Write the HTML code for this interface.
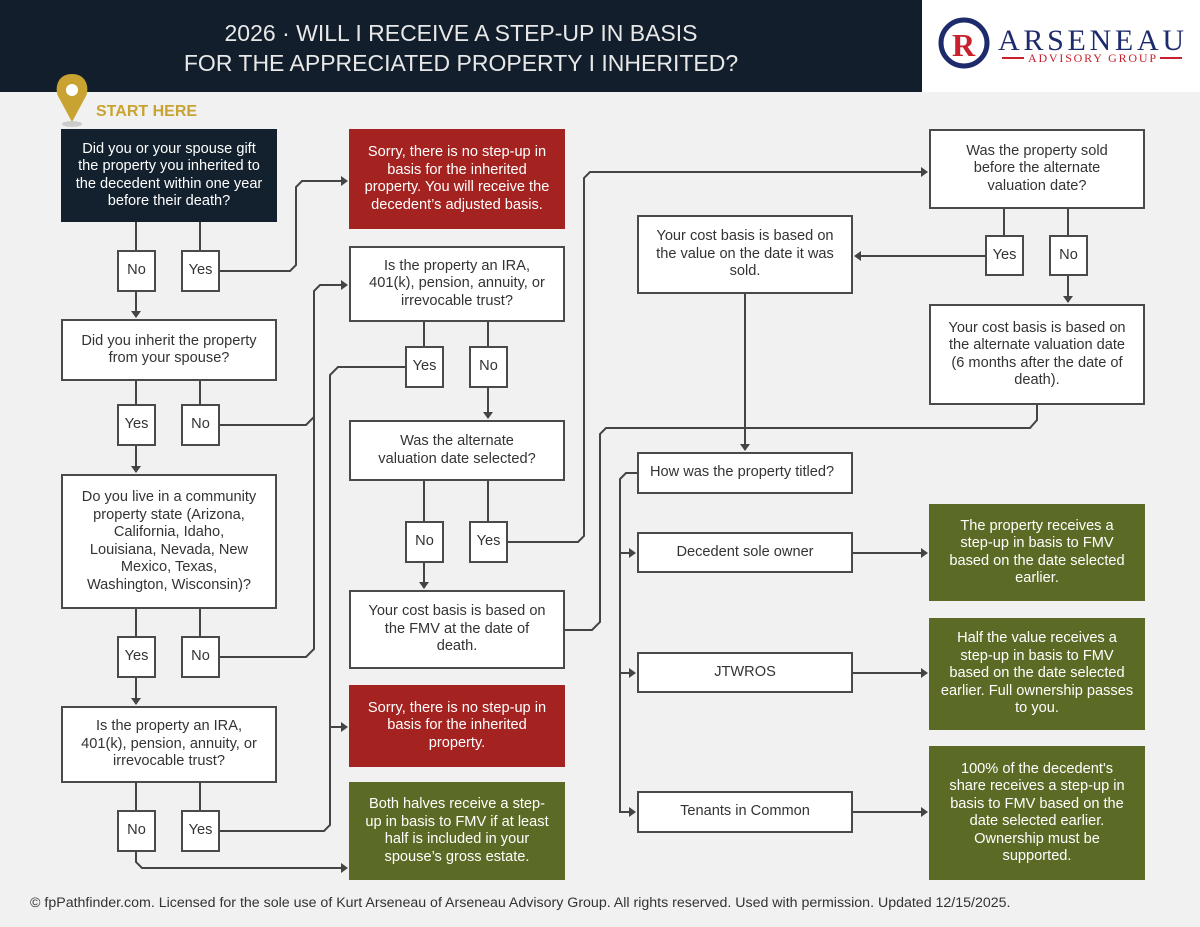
<!DOCTYPE html>
<html><head><meta charset="utf-8"><style>
body{margin:0;width:1200px;height:927px;background:#f1f1f1;font-family:"Liberation Sans",sans-serif;position:relative;overflow:hidden}
.hd{position:absolute;left:0;top:0;width:922px;height:92px;background:#121e2b;color:#e8e8e8;text-align:center;font-size:23px;line-height:30px;letter-spacing:0px;font-weight:normal;padding-top:18px;box-sizing:border-box}
.logo{position:absolute;left:922px;top:0;width:278px;height:92px;background:#fff}
.b{position:absolute;box-sizing:border-box;border:2px solid #4a4a4a;background:#fff;color:#333;font-size:14.6px;line-height:17.5px;display:flex;align-items:center;justify-content:center;text-align:center;padding:0 10px}
.s{padding:0}
.d{background:#13202d;border-color:#13202d;color:#fff}
.r{background:#a4221f;border-color:#a4221f;color:#fff}
.g{background:#5b6b25;border-color:#5b6b25;color:#fff}
svg{position:absolute;left:0;top:0}
.ft{position:absolute;left:30px;top:895px;font-size:14.2px;color:#333}
</style></head><body>
<div class="hd">2026 · WILL I RECEIVE A STEP-UP IN BASIS<br>FOR THE APPRECIATED PROPERTY I INHERITED?</div>
<div class="logo">
<svg width="278" height="92" style="position:absolute;left:0;top:0"><circle cx="42" cy="43" r="23" fill="none" stroke="#1d2a6b" stroke-width="5"/><text x="30" y="56" font-family="Liberation Serif" font-size="32" font-weight="bold" fill="#c8202d">R</text>
<text x="76" y="50" font-family="Liberation Serif" font-size="30" fill="#1d2a6b" textLength="186">ARSENEAU</text>
<line x1="80" y1="58" x2="102" y2="58" stroke="#c8202d" stroke-width="2"/><line x1="238" y1="58" x2="260" y2="58" stroke="#c8202d" stroke-width="2"/>
<text x="106" y="62" font-family="Liberation Serif" font-size="12" fill="#c8202d" textLength="128">ADVISORY GROUP</text></svg>
</div>
<svg width="1200" height="927">
<path d="M72 74 C56 74 55 90 58 96 L72 122 L86 96 C89 90 88 74 72 74Z" fill="#c9a332"/><circle cx="72" cy="90" r="6" fill="#fff"/>
<ellipse cx="72" cy="124" rx="10" ry="3" fill="#ccc"/>
<text x="96" y="116" font-size="16" font-weight="bold" fill="#c9a332" font-family="Liberation Sans">START HERE</text>
<g fill="none" stroke="#444" stroke-width="2">
<path d="M136 222V250M200 222V250M136 292V317M220 271H290L296 265V187L302 181H345"/>
<path d="M136 381V404M200 381V404M136 446V472M220 425H306L314 417V291L320 285H345M220 657H306L314 649V417"/>
<path d="M136 609V636M200 609V636M136 678V704M136 783V810M200 783V810"/>
<path d="M136 852V862L142 868H345M220 831H324L330 825V375L338 367H405M330 727H345"/>
<path d="M424 322V346M488 322V346M488 388V418M424 481V521M488 481V521M424 563V588"/>
<path d="M508 542H578L584 536V178L590 172H925"/>
<path d="M1004 209V235M1068 209V235M985 256H857M1068 276V302"/>
<path d="M745 294V450M1037 405V420L1030 428H606L600 434V622L592 630H565"/>
<path d="M637 473H626L620 479V812H633M620 553H633M620 673H633"/>
<path d="M853 553H925M853 673H925M853 812H925"/>
</g>
<g fill="#444">
<path d="M131 311h10l-5 7zM131 466h10l-5 7zM131 698h10l-5 7zM483 412h10l-5 7zM419 582h10l-5 7zM1063 296h10l-5 7zM740 444h10l-5 7z"/>
<path d="M341 176v10l7-5zM341 280v10l7-5zM341 722v10l7-5zM341 863v10l7-5zM921 167v10l7-5zM629 548v10l7-5zM629 668v10l7-5zM629 807v10l7-5zM921 548v10l7-5zM921 668v10l7-5zM921 807v10l7-5z"/>
<path d="M861 251v10l-7-5z"/>
</g>
</svg>
<div class="b d" style="left:61px;top:129px;width:216px;height:93px;padding:0 12px">Did you or your spouse gift the property you inherited to the decedent within one year before their death?</div>
<div class="b s" style="left:117px;top:250px;width:39px;height:42px">No</div>
<div class="b s" style="left:181px;top:250px;width:39px;height:42px">Yes</div>
<div class="b" style="left:61px;top:319px;width:216px;height:62px">Did you inherit the property from your spouse?</div>
<div class="b s" style="left:117px;top:404px;width:39px;height:42px">Yes</div>
<div class="b s" style="left:181px;top:404px;width:39px;height:42px">No</div>
<div class="b" style="left:61px;top:474px;width:216px;height:135px;padding:0 16px">Do you live in a community property state (Arizona, California, Idaho, Louisiana, Nevada, New Mexico, Texas, Washington, Wisconsin)?</div>
<div class="b s" style="left:117px;top:636px;width:39px;height:42px">Yes</div>
<div class="b s" style="left:181px;top:636px;width:39px;height:42px">No</div>
<div class="b" style="left:61px;top:706px;width:216px;height:77px;padding:0 12px">Is the property an IRA, 401(k), pension, annuity, or irrevocable trust?</div>
<div class="b s" style="left:117px;top:810px;width:39px;height:42px">No</div>
<div class="b s" style="left:181px;top:810px;width:39px;height:42px">Yes</div>

<div class="b r" style="left:349px;top:129px;width:216px;height:100px;padding:0 8px">Sorry, there is no step-up in basis for the inherited property. You will receive the decedent’s adjusted basis.</div>
<div class="b" style="left:349px;top:246px;width:216px;height:76px;padding:0 12px">Is the property an IRA, 401(k), pension, annuity, or irrevocable trust?</div>
<div class="b s" style="left:405px;top:346px;width:39px;height:42px">Yes</div>
<div class="b s" style="left:469px;top:346px;width:39px;height:42px">No</div>
<div class="b" style="left:349px;top:420px;width:216px;height:61px;padding:0 20px">Was the alternate valuation date selected?</div>
<div class="b s" style="left:405px;top:521px;width:39px;height:42px">No</div>
<div class="b s" style="left:469px;top:521px;width:39px;height:42px">Yes</div>
<div class="b" style="left:349px;top:590px;width:216px;height:79px;padding:0 16px">Your cost basis is based on the FMV at the date of death.</div>
<div class="b r" style="left:349px;top:685px;width:216px;height:82px">Sorry, there is no step-up in basis for the inherited property.</div>
<div class="b g" style="left:349px;top:782px;width:216px;height:98px;padding:0 12px">Both halves receive a step-up in basis to FMV if at least half is included in your spouse’s gross estate.</div>

<div class="b" style="left:637px;top:215px;width:216px;height:79px;padding:0 14px">Your cost basis is based on the value on the date it was sold.</div>
<div class="b" style="left:637px;top:452px;width:216px;height:42px;justify-content:flex-start;padding-left:11px;white-space:nowrap">How was the property titled?</div>
<div class="b" style="left:637px;top:532px;width:216px;height:41px">Decedent sole owner</div>
<div class="b" style="left:637px;top:652px;width:216px;height:41px">JTWROS</div>
<div class="b" style="left:637px;top:791px;width:216px;height:42px">Tenants in Common</div>

<div class="b" style="left:929px;top:129px;width:216px;height:80px;padding:0 22px">Was the property sold before the alternate valuation date?</div>
<div class="b s" style="left:985px;top:235px;width:39px;height:41px">Yes</div>
<div class="b s" style="left:1049px;top:235px;width:39px;height:41px">No</div>
<div class="b" style="left:929px;top:304px;width:216px;height:101px;padding:0 14px">Your cost basis is based on the alternate valuation date (6 months after the date of death).</div>
<div class="b g" style="left:929px;top:504px;width:216px;height:97px;padding:0 16px">The property receives a step-up in basis to FMV based on the date selected earlier.</div>
<div class="b g" style="left:929px;top:618px;width:216px;height:112px;padding:0 8px">Half the value receives a step-up in basis to FMV based on the date selected earlier. Full ownership passes to you.</div>
<div class="b g" style="left:929px;top:746px;width:216px;height:134px;padding:0 14px">100% of the decedent's share receives a step-up in basis to FMV based on the date selected earlier. Ownership must be supported.</div>
<div class="ft">© fpPathfinder.com. Licensed for the sole use of Kurt Arseneau of Arseneau Advisory Group. All rights reserved. Used with permission. Updated 12/15/2025.</div>
</body></html>
